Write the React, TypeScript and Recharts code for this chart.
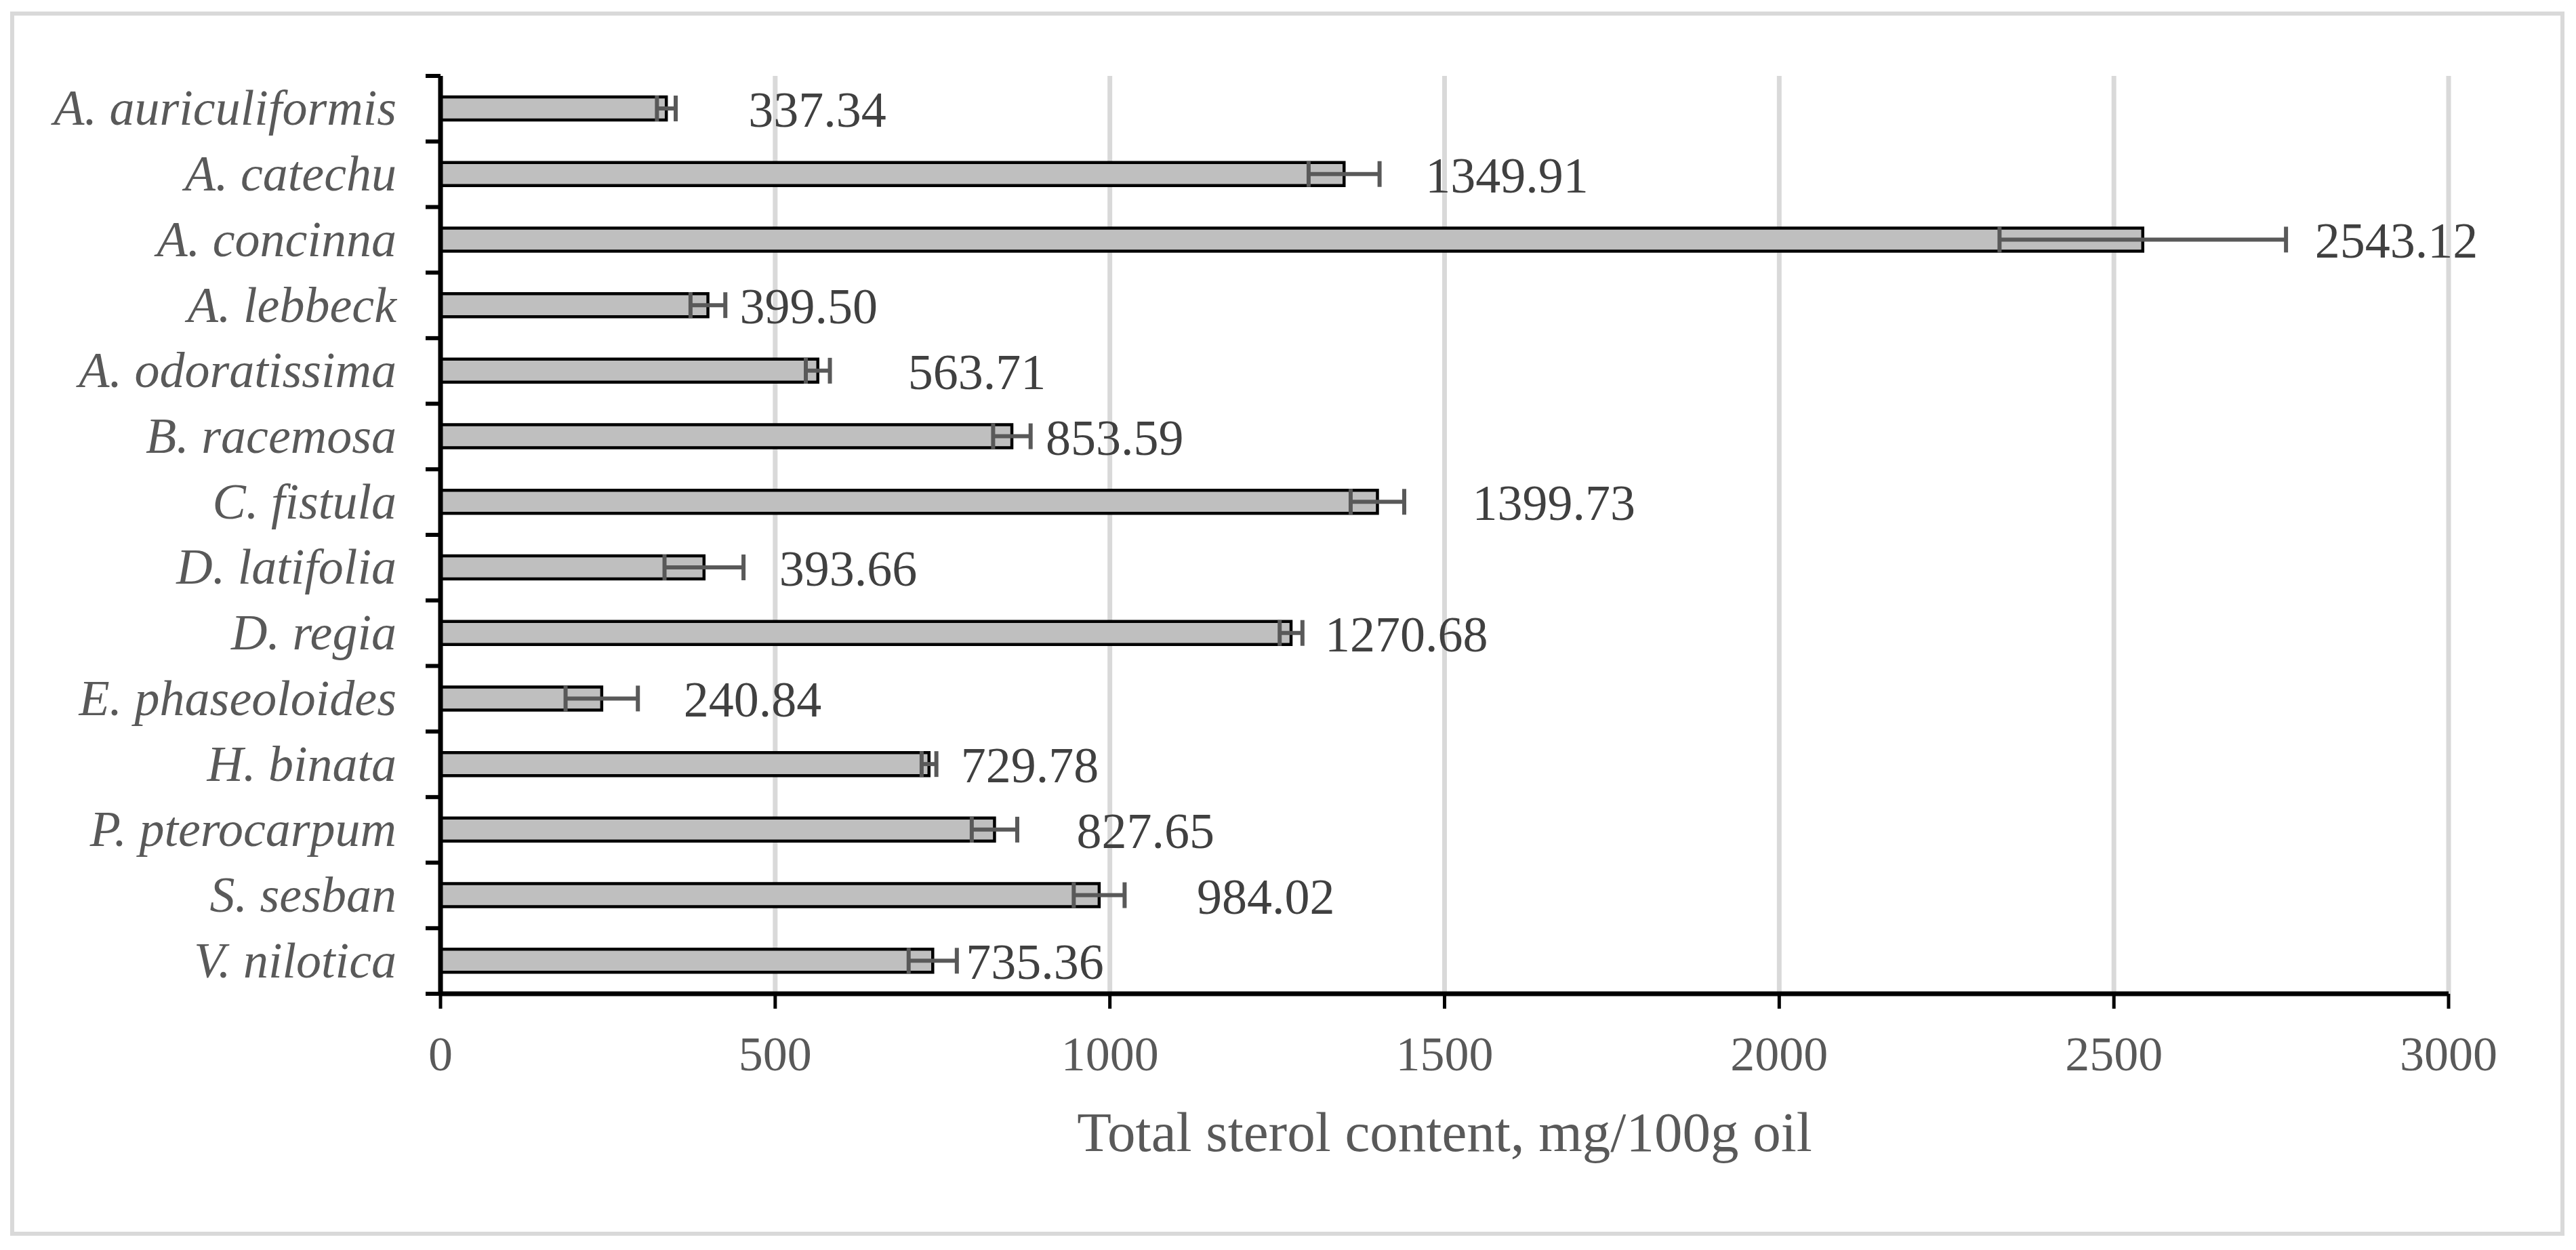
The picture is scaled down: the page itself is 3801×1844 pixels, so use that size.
import React from 'react';
import { BarChart, Bar, XAxis, YAxis, CartesianGrid, ErrorBar, LabelList } from 'recharts';

// ---------- data ----------
const species = [
  'A. auriculiformis',
  'A. catechu',
  'A. concinna',
  'A. lebbeck',
  'A. odoratissima',
  'B. racemosa',
  'C. fistula',
  'D. latifolia',
  'D. regia',
  'E. phaseoloides',
  'H. binata',
  'P. pterocarpum',
  'S. sesban',
  'V. nilotica',
];
const sterolTotals = [
  337.34, 1349.91, 2543.12, 399.5, 563.71, 853.59, 1399.73, 393.66, 1270.68, 240.84, 729.78, 827.65, 984.02, 735.36,
];
const sterolErrors = [14, 53, 214, 26, 18, 28, 40, 59, 17, 54, 11, 34, 38, 36];
const xTicks = [0, 500, 1000, 1500, 2000, 2500, 3000];
const axisTitle = 'Total sterol content, mg/100g oil';

const data = species.map((name, i) => ({ name, value: sterolTotals[i], err: sterolErrors[i] }));

// ---------- layout / style ----------
const W = 3801;
const H = 1844;
const MARGIN = { top: 112, right: 188, bottom: 0, left: 0 };
const Y_AXIS_W = 650;
const X_AXIS_H = 378;
const PLOT_H = H - MARGIN.top - MARGIN.bottom - X_AXIS_H;
const BAND = PLOT_H / species.length;
const Y_TICK_SIZE = 20;
const Y_TICK_MARGIN = 45;
// horizontal gap (px) between bar end and its value label, as placed in the original figure
const LABEL_DX = [121, 120, 254, 47, 133, 50, 140, 111, 50, 121, 47, 121, 144, 49];
const SERIF = "'Liberation Serif', 'Times New Roman', Times, serif";

const CategoryTick = (props: any) => {
  const { x, y, payload } = props;
  const idx = props.index != null ? props.index : species.indexOf(payload.value);
  const axisX = x + Y_TICK_SIZE + Y_TICK_MARGIN;
  return (
    <g>
      <line x1={axisX - 22} x2={axisX} y1={y - BAND / 2} y2={y - BAND / 2} stroke="#000" strokeWidth={6} />
      {idx === species.length - 1 && (
        <line x1={axisX - 22} x2={axisX} y1={y + BAND / 2} y2={y + BAND / 2} stroke="#000" strokeWidth={6} />
      )}
      <text
        x={x}
        y={y + 24}
        textAnchor="end"
        fontFamily={SERIF}
        fontStyle="italic"
        fontSize={74}
        fill="#595959"
      >
        {payload.value}
      </text>
    </g>
  );
};

const ValueTick = (props: any) => {
  const { x, y, payload } = props;
  return (
    <text x={x} y={y + 51} textAnchor="middle" fontFamily={SERIF} fontSize={72} fill="#595959">
      {payload.value}
    </text>
  );
};

const renderTitle = (props: any) => {
  const vb = props.viewBox || {};
  return (
    <text
      x={vb.x + vb.width / 2}
      y={vb.y + 232}
      textAnchor="middle"
      fontFamily={SERIF}
      fontSize={83}
      fill="#595959"
    >
      {axisTitle}
    </text>
  );
};

const renderValueLabel = (props: any) => {
  const vb = props.viewBox && props.viewBox.width !== undefined ? props.viewBox : props;
  const { x, y, width, height } = vb;
  let i = props.index;
  if (i == null || LABEL_DX[i] == null) i = sterolTotals.indexOf(Number(props.value));
  return (
    <text
      x={x + width + (LABEL_DX[i] ?? 40)}
      y={y + height / 2 + 27}
      textAnchor="start"
      fontFamily={SERIF}
      fontSize={74}
      fill="#404040"
    >
      {Number(props.value).toFixed(2)}
    </text>
  );
};

export default function App() {
  return (
    <div style={{ position: 'absolute', left: 0, top: 0, width: W, height: H, background: '#fff' }}>
      <div
        style={{
          position: 'absolute',
          left: 15,
          top: 17,
          width: 3769,
          height: 1806,
          border: '6px solid #d9d9d9',
          boxSizing: 'border-box',
        }}
      />
      <div style={{ position: 'absolute', left: 0, top: 0 }}>
        <BarChart width={W} height={H} data={data} layout="vertical" margin={MARGIN}>
          <CartesianGrid horizontal={false} stroke="#d9d9d9" strokeWidth={7} />
          <XAxis
            type="number"
            domain={[0, 3000]}
            ticks={xTicks}
            interval={0}
            height={X_AXIS_H}
            tickSize={22}
            tickMargin={40}
            axisLine={{ stroke: '#000', strokeWidth: 7 }}
            tickLine={{ stroke: '#000', strokeWidth: 5 }}
            tick={(p: any) => <ValueTick {...p} />}
            label={renderTitle}
          />
          <YAxis
            type="category"
            dataKey="name"
            width={Y_AXIS_W}
            interval={0}
            tickSize={Y_TICK_SIZE}
            tickMargin={Y_TICK_MARGIN}
            tickLine={false}
            axisLine={{ stroke: '#000', strokeWidth: 7 }}
            tick={(p: any) => <CategoryTick {...p} />}
          />
          <Bar
            dataKey="value"
            fill="#bfbfbf"
            stroke="#000"
            strokeWidth={4.5}
            barSize={34}
            isAnimationActive={false}
          >
            <ErrorBar dataKey="err" direction="x" width={19} strokeWidth={6} stroke="#595959" />
            <LabelList dataKey="value" content={renderValueLabel} />
          </Bar>
        </BarChart>
      </div>
    </div>
  );
}
